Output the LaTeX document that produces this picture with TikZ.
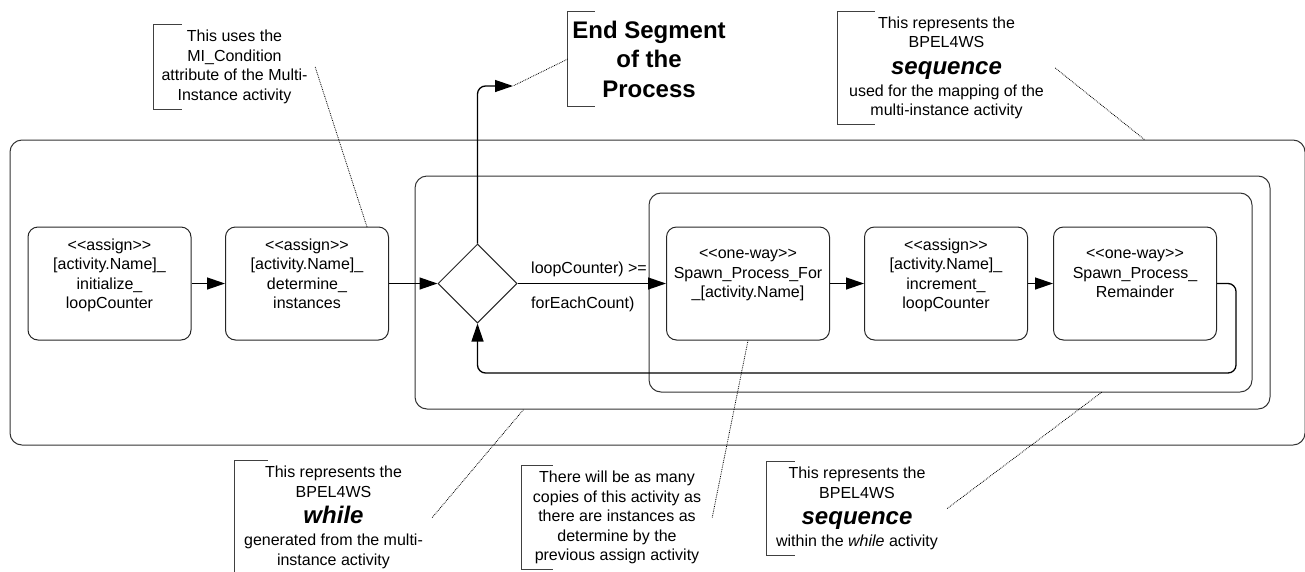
\documentclass[tikz,border=0pt]{standalone}
\usepackage{fontspec}
\setmainfont{Liberation Sans}
\usetikzlibrary{arrows.meta,shapes.geometric,calc}
\newcommand{\dgfont}{\fontsize{16}{19.5}\selectfont}
\newcommand{\dgbig}{\fontsize{24}{19.5}\selectfont\bfseries\itshape}
\newcommand{\stereo}[1]{<{}<#1>{}>}
\begin{document}
\begin{tikzpicture}[x=1pt,y=-1pt,
  container/.style={draw=black!80, line width=1pt, rounded corners=12pt, inner sep=0pt},
  activity/.style={draw=black!85, line width=1pt, rounded corners=10pt, minimum width=163pt, minimum height=113pt, inner sep=0pt, align=center, font=\dgfont},
  decision/.style={diamond, draw=black!85, line width=1pt, minimum width=79pt, minimum height=79pt, inner sep=0pt, aspect=1},
  flow/.style={line width=1.3pt, -{Triangle[length=18pt,width=12pt]}},
  annot/.style={inner sep=0pt, align=center, font=\dgfont},
  bracketline/.style={draw=black!75, line width=1pt},
  note/.style={densely dotted, line width=0.8pt},
  guard/.style={font=\dgfont, anchor=west, inner sep=0pt}]
\useasboundingbox (0,0) rectangle (1305,571);
\clip (0,0) rectangle (1305,571);

% containers
\node[container, minimum width=1295pt, minimum height=305pt] (outer) at (657.5,292.5) {};
\node[container, minimum width=855pt, minimum height=233pt] (whilebox) at (842.5,292.5) {};
\node[container, minimum width=603pt, minimum height=199pt] (seqbox) at (950.5,292.5) {};

% activities
\node[activity] (b1) at (109.5,283.5) {\stereo{assign}\\{[activity.Name]\_}\\initialize\_\\loopCounter\\{}};
\node[activity] (b2) at (307,283.5) {\stereo{assign}\\{[activity.Name]\_}\\determine\_\\instances\\{}};
\node[decision] (dia) at (477.5,283.5) {};
\node[activity] (b3) at (748,283.5) {\stereo{one-way}\\Spawn\_Process\_For\\\_[activity.Name]\\{}};
\node[activity] (b4) at (946,283.5) {\stereo{assign}\\{[activity.Name]\_}\\increment\_\\loopCounter\\{}};
\node[activity] (b5) at (1135,283.5) {\stereo{one-way}\\Spawn\_Process\_\\Remainder\\{}};

% guard labels
\node[guard] (g1) at (531,269) {loopCounter) >=};
\node[guard] (g2) at (531,304) {forEachCount)};

% connectors
\coordinate (endtip) at (513,86);
\coordinate (loopR) at (1236,373);
\draw[flow] (b1.east) -- (b2.west);
\draw[flow] (b2.east) -- (dia.west);
\draw[flow] (dia.east) -- (b3.west);
\draw[flow] (b3.east) -- (b4.west);
\draw[flow] (b4.east) -- (b5.west);
\draw[flow, rounded corners=8pt] (b5.east) -| (loopR) -| (dia.south);
\draw[flow, rounded corners=8pt] (dia.north) |- (endtip);

% annotations
\node[annot, minimum width=161pt, minimum height=84pt] (a1) at (234.5,67)
  {This uses the\\MI\_Condition\\attribute of the Multi-\\Instance activity};
\node[annot, minimum width=162pt, minimum height=94pt, font=\fontsize{24}{29.5}\selectfont\bfseries] (a2) at (649,59)
  {End Segment\\of the\\Process};
\node[annot, minimum width=217pt, minimum height=112pt] (a3) at (946.5,68)
  {This represents the\\BPEL4WS\\[7pt]{\dgbig sequence}\\[2.5pt]used for the mapping of the\\multi-instance activity};
\node[annot, minimum width=197pt, minimum height=113pt] (a4) at (333.5,517.5)
  {This represents the\\BPEL4WS\\[7pt]{\dgbig while}\\[2.5pt]generated from the multi-\\instance activity};
\node[annot, minimum width=190pt, minimum height=103pt] (a5) at (617,517.5)
  {There will be as many\\copies of this activity as\\there are instances as\\determine by the\\previous assign activity};
\node[annot, minimum width=180pt, minimum height=93pt] (a6) at (857,508.5)
  {This represents the\\BPEL4WS\\[7pt]{\dgbig sequence}\\[2.5pt]within the \textit{while} activity};

\foreach \a/\arm in {a1/28, a2/27, a3/37, a4/33, a5/31, a6/28}{
  \draw[bracketline] ([xshift=\arm pt]\a.north west) -- (\a.north west) -- (\a.south west) -- ([xshift=\arm pt]\a.south west);
}

% note links
\coordinate (t1) at (367,227);
\coordinate (t3) at (1145,140);
\coordinate (t4) at (524,409);
\coordinate (t6) at (1102,392);
\draw[note] (a1.east) -- (t1);
\draw[note] (a2.west) -- (endtip);
\draw[note] (a3.east) -- (t3);
\draw[note] (a4.east) -- (t4);
\draw[note] (a5.east) -- (b3.south);
\draw[note] (a6.east) -- (t6);
\end{tikzpicture}
\end{document}
